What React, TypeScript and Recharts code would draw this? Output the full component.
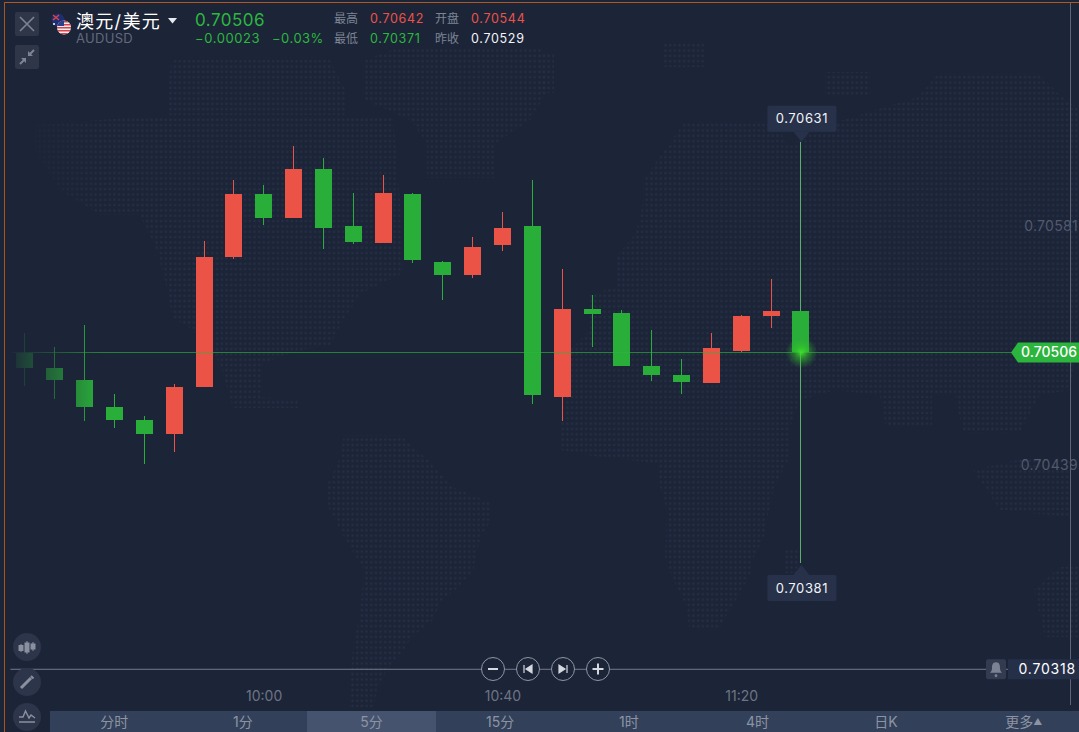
import React from 'react';
import { ComposedChart, Bar, XAxis, YAxis, ReferenceLine, ReferenceDot } from 'recharts';

const BG = '#1c2438';
const RED = '#ec5347';
const GREEN = '#2aae3a';
const TEXT_GREEN = '#2bb83e';
const NUM_FONT = 'Inter, "Noto Sans CJK SC", sans-serif';

const times = [
  '09:20', '09:25', '09:30', '09:35', '09:40', '09:45', '09:50', '09:55', '10:00', '10:05',
  '10:10', '10:15', '10:20', '10:25', '10:30', '10:35', '10:40', '10:45', '10:50', '10:55',
  '11:00', '11:05', '11:10', '11:15', '11:20', '11:25', '11:30',
];
// empty slots to the right of the last candle
const futureTimes = ['11:35', '11:40', '11:45', '11:50', '11:55', '12:00', '12:05', '12:10', '12:15'];

const opens = [
  0.705057, 0.704968, 0.704897, 0.704737, 0.704659, 0.704576, 0.704855, 0.705627, 0.706001, 0.705858,
  0.706149, 0.705811, 0.70571, 0.706001, 0.705597, 0.70552, 0.705698, 0.705811, 0.704796, 0.705318,
  0.705294, 0.70498, 0.704926, 0.704879, 0.705069, 0.705277, 0.705306,
];
const closes = [
  0.704968, 0.704897, 0.704737, 0.704659, 0.704576, 0.704855, 0.705627, 0.706001, 0.705858, 0.706149,
  0.705799, 0.705716, 0.706007, 0.705609, 0.70552, 0.705686, 0.705799, 0.704808, 0.705318, 0.705288,
  0.70498, 0.704926, 0.704885, 0.705087, 0.705277, 0.705306, 0.70506,
];
const highs = [
  0.705176, 0.705093, 0.705223, 0.704814, 0.704683, 0.704873, 0.705722, 0.706084, 0.706054, 0.706286,
  0.706214, 0.706007, 0.706113, 0.706007, 0.705603, 0.705745, 0.705894, 0.706084, 0.705556, 0.705401,
  0.705312, 0.705194, 0.705021, 0.705176, 0.705283, 0.705496, 0.70631,
];
const lows = [
  0.704861, 0.704784, 0.704653, 0.704612, 0.7044, 0.704469, 0.704855, 0.705615, 0.705817, 0.705858,
  0.705674, 0.705704, 0.70571, 0.705591, 0.705372, 0.705502, 0.705662, 0.704754, 0.704653, 0.705093,
  0.70498, 0.704891, 0.704814, 0.704879, 0.705063, 0.705205, 0.70381,
];

const yTicks = [0.70581, 0.70439];
const xTicks = ['10:00', '10:40', '11:20'];
const lastPrice = 0.70506;
const floorPrice = 0.70318;
const rangeHigh = 0.70631;
const rangeLow = 0.70381;
const lastTime = '11:30';

const periods = ['分时', '1分', '5分', '15分', '1时', '4时', '日K', '更多'];
const activePeriod = '5分';

const chartData = [
  ...times.map((time, i) => ({
    time,
    open: opens[i],
    close: closes[i],
    high: highs[i],
    low: lows[i],
  })),
  ...futureTimes.map((time) => ({ time })),
];

// bar runs from low to high, body position comes out of the same pixel span
const Candle = (props: any) => {
  const { x, y, width, height, payload } = props;
  if (payload.high === undefined || !height) return null;
  const { open, close, high, low } = payload;
  const perUnit = height / (high - low);
  const bodyTop = y + (high - Math.max(open, close)) * perUnit;
  const bodyBottom = y + (high - Math.min(open, close)) * perUnit;
  const color = close >= open ? RED : GREEN;
  const mid = Math.floor(x + width / 2) + 0.5;
  const wick = payload.time === lastTime ? '#58b068' : color;
  return (
    <g shapeRendering="crispEdges">
      <line x1={mid} x2={mid} y1={y} y2={y + height} stroke={wick} strokeWidth={1} />
      <rect x={Math.round(x)} y={bodyTop} width={width} height={Math.max(bodyBottom - bodyTop, 1)} fill={color} />
    </g>
  );
};

const RangeTag = (props: any) => {
  const { cx, cy, label, up } = props;
  const boxY = up ? cy + 12 : cy - 36;
  const tip = up
    ? `${cx},${cy + 2} ${cx - 8},${cy + 12} ${cx + 8},${cy + 12}`
    : `${cx},${cy} ${cx - 8},${cy - 10} ${cx + 8},${cy - 10}`;
  return (
    <g>
      <polygon points={tip} fill="#27324a" />
      <rect x={cx - 34} y={boxY} width={69} height={26} rx={2} fill="#27324a" />
      <text x={cx + 0.5} y={boxY + 17.5} textAnchor="middle" fill="#f2f4f7" fontSize={13} letterSpacing={0.6} fontFamily={NUM_FONT}>
        {label}
      </text>
    </g>
  );
};

const Glow = (props: any) => {
  const { cx, cy } = props;
  return (
    <g>
      <defs>
        <radialGradient id="lastGlow">
          <stop offset="0%" stopColor="#3ee62b" stopOpacity={0.95} />
          <stop offset="35%" stopColor="#35c92a" stopOpacity={0.6} />
          <stop offset="100%" stopColor="#2aa82a" stopOpacity={0} />
        </radialGradient>
      </defs>
      <circle cx={cx} cy={cy} r={16} fill="url(#lastGlow)" />
    </g>
  );
};

const LastTag = (props: any) => {
  const y = props.viewBox.y;
  return (
    <g>
      <polygon points={`1011,${y} 1018,${y - 10} 1079,${y - 10} 1079,${y + 10} 1018,${y + 10}`} fill="#2bb53c" />
      <text x={1077} y={y + 5} textAnchor="end" fill="#fff" fontSize={14} fontWeight={500} fontFamily={NUM_FONT}>
        {lastPrice.toFixed(5)}
      </text>
    </g>
  );
};

const FloorTag = (props: any) => {
  const y = props.viewBox.y;
  return (
    <g>
      <rect x={986} y={y - 10} width={20} height={20} rx={2} fill="#333b50" />
      <path
        d={`M996 ${y - 7} c-3.5 0 -4 3 -4 6 c0 2 -1 3.500 -2 4.500 h12 c-1 -1 -2 -2.500 -2 -4.500 c0 -3 -0.500 -6 -4 -6 z`}
        fill="#7b8293"
      />
      <circle cx={996} cy={y + 6.5} r={1.4} fill="#7b8293" />
      <rect x={1008} y={y - 10} width={71} height={20} fill="#252f47" />
      <text x={1076} y={y + 5} textAnchor="end" fill="#fff" fontSize={14} letterSpacing={0.8} fontFamily={NUM_FONT}>
        {floorPrice.toFixed(5)}
      </text>
    </g>
  );
};

const txt = (left: number, top: number, fontSize: number, color: string, extra: React.CSSProperties = {}): React.CSSProperties => ({
  position: 'absolute',
  left,
  top,
  fontSize,
  lineHeight: `${fontSize + 4}px`,
  color,
  whiteSpace: 'nowrap',
  fontFamily: NUM_FONT,
  ...extra,
});

// dotted world map behind the candles, outlines only traced by eye
const landShapes = [
  // arctic islands and north america
  '172,60 330,60 345,90 345,115 168,115 168,87',
  '35,125 138,117 393,117 400,200 403,273 362,293 345,317 330,345 300,350 263,363 260,397 300,400 300,408 233,408 220,363 193,330 172,317 169,297 158,253 140,215 100,215 60,190 35,150',
  // greenland
  '365,60 400,47 540,47 548,90 530,120 496,143 496,178 427,178 427,143 410,120 365,100',
  // south america
  '344,435 400,435 428,460 453,487 491,503 491,520 481,537 476,553 474,570 463,583 440,603 433,620 412,637 402,653 387,670 377,690 374,707 349,707 351,670 354,640 359,620 364,570 344,537 326,503 326,487 339,460',
  // europe, asia, africa
  '684,123 774,123 790,147 811,130 866,113 918,97 939,73 1038,73 1060,95 1079,110 1079,330 1070,390 1040,395 1019,433 963,433 955,395 932,395 932,427 886,427 880,395 835,390 800,400 790,427 790,457 774,487 769,510 764,537 754,557 749,577 734,603 718,630 690,630 685,603 672,577 665,557 667,510 660,487 657,463 600,457 560,450 563,357 590,330 590,295 616,287 616,257 636,233 643,203 643,180 670,143',
  // madagascar, small islands, indonesia, australia
  '785,550 800,550 800,573 785,573',
  '664,43 705,43 705,67 664,67',
  '540,53 554,53 554,93 540,93',
  '825,72 870,72 870,97 825,97',
  '973,470 1030,457 1070,470 1070,517 1000,510',
  '1034,590 1060,567 1079,567 1079,637 1045,637',
];

const WorldMap = () => (
  <svg width={1079} height={732} style={{ position: 'absolute', left: 0, top: 0 }}>
    <defs>
      <pattern id="dots" width={4.67} height={5.33} patternUnits="userSpaceOnUse">
        <circle cx={2.3} cy={2.6} r={1.2} fill="#252e44" />
      </pattern>
    </defs>
    {landShapes.map((points, i) => (
      <polygon key={i} points={points} fill="url(#dots)" />
    ))}
  </svg>
);

const Flag = () => (
  <svg width={24} height={24} style={{ position: 'absolute', left: 48.5, top: 12 }}>
    <defs>
      <clipPath id="usClip">
        <circle cx={15} cy={15.500} r={7} />
      </clipPath>
    </defs>
    <circle cx={9} cy={8} r={6.5} fill="#1c2f73" />
    <path d="M4 3 L10 8 M10 3 L4 8" stroke="#d8424a" strokeWidth={1.6} />
    <circle cx={11} cy={12} r={1} fill="#fff" />
    <circle cx={5} cy={12} r={1} fill="#fff" />
    <g clipPath="url(#usClip)">
      <rect x={8} y={8} width={14} height={15} fill="#eef0f4" />
      {[9, 12, 15, 18, 21].map((y) => (
        <rect key={y} x={8} y={y} width={14} height={1.5} fill="#d8424a" />
      ))}
      <rect x={8} y={8} width={7} height={6} fill="#2b3f8c" />
    </g>
  </svg>
);

const toolBtn = (top: number): React.CSSProperties => ({
  position: 'absolute',
  left: 15,
  top,
  width: 24,
  height: 24,
  borderRadius: 2,
  background: '#2e3648',
});

const circleBtn = (top: number): React.CSSProperties => ({
  position: 'absolute',
  left: 13,
  top,
  width: 28,
  height: 28,
  borderRadius: 14,
  background: '#2c3549',
});

const controlIcons = [
  <path key="m" d="M7 12h10" stroke="#d5d8de" strokeWidth={2} />,
  <path key="p" d="M8 8v8 M16 8v8l-6-4z" stroke="#d5d8de" strokeWidth={1.2} fill="#d5d8de" />,
  <path key="n" d="M16 8v8 M8 8v8l6-4z" stroke="#d5d8de" strokeWidth={1.2} fill="#d5d8de" />,
  <path key="a" d="M6.500 12h11 M12 6.500v11" stroke="#d5d8de" strokeWidth={2} />,
];
const controlX = [481, 516, 551, 586];

export default function App() {
  return (
    <div style={{ position: 'absolute', left: 0, top: 0, width: 1079, height: 732, overflow: 'hidden', background: BG }}>
      <WorldMap />

      {/* frame and right side rule */}
      <div style={{ position: 'absolute', left: 4, top: 2, width: 1075, height: 1, background: '#b0581f' }} />
      <div style={{ position: 'absolute', left: 4, top: 2, width: 1, height: 730, background: '#a8541f' }} />
      <div style={{ position: 'absolute', left: 1070, top: 3, width: 1, height: 702, background: '#5d6577' }} />

      <div style={{ position: 'absolute', left: 0, top: 0 }}>
        <ComposedChart
          width={1085}
          height={732}
          data={chartData}
          margin={{ top: 0, right: 0, bottom: 0, left: 10.4 }}
          barCategoryGap={0}
        >
          <XAxis
            dataKey="time"
            ticks={xTicks}
            interval={0}
            height={57}
            axisLine={false}
            tickLine={false}
            tickMargin={10}
            tick={{ fill: '#6d7484', fontSize: 14, fontFamily: NUM_FONT }}
          />
          <YAxis
            type="number"
            orientation="right"
            mirror
            domain={[0.703146, 0.707152]}
            ticks={yTicks}
            interval={0}
            width={60}
            axisLine={false}
            tickLine={false}
            tickSize={0}
            tickMargin={7}
            tickFormatter={(v: number) => v.toFixed(5)}
            tick={{ fill: '#515a6d', fontSize: 14, letterSpacing: 0.3, fontFamily: NUM_FONT }}
          />
          <ReferenceLine y={floorPrice} stroke="#747b8b" strokeWidth={1} label={(p: any) => <FloorTag {...p} />} />
          <Bar
            dataKey={(d: any) => (d.high === undefined ? null : [d.low, d.high])}
            barSize={17}
            isAnimationActive={false}
            shape={<Candle />}
          />
          <ReferenceLine y={lastPrice} stroke="#2cb53c" strokeOpacity={0.65} strokeWidth={1} label={(p: any) => <LastTag {...p} />} />
          <ReferenceDot x={lastTime} y={rangeHigh} shape={(p: any) => <RangeTag {...p} label={rangeHigh.toFixed(5)} />} />
          <ReferenceDot x={lastTime} y={rangeLow} shape={(p: any) => <RangeTag {...p} label={rangeLow.toFixed(5)} up />} />
          <ReferenceDot x={lastTime} y={lastPrice} shape={(p: any) => <Glow {...p} />} />
        </ComposedChart>
      </div>

      {/* left fade over the oldest candles */}
      <div style={{ position: 'absolute', left: 5, top: 80, width: 95, height: 540, background: `linear-gradient(to right, ${BG}, ${BG}00)` }} />

      {/* header */}
      <div style={toolBtn(12)}>
        <svg width={24} height={24}>
          <path d="M5 5 L19 19 M19 5 L5 19" stroke="#7d8495" strokeWidth={1.6} />
        </svg>
      </div>
      <div style={toolBtn(45)}>
        <svg width={24} height={24}>
          <path d="M19 5 L14 10 M5 19 L10 14" stroke="#7d8495" strokeWidth={2} />
          <path d="M13 6 L13 11 L18 11 Z M6 13 L11 13 L11 18 Z" fill="#7d8495" />
        </svg>
      </div>
      <Flag />
      <div style={txt(76, 11, 18, '#fff', { letterSpacing: 1.3 })}>澳元/美元</div>
      <svg width={10} height={6} style={{ position: 'absolute', left: 168, top: 18 }}>
        <path d="M0 0 H9 L4.500 5.500 Z" fill="#e8eaee" />
      </svg>
      <div style={txt(76, 30, 13, '#626a7c', { letterSpacing: 0.3 })}>AUDUSD</div>
      <div style={txt(195, 10, 17, TEXT_GREEN, { letterSpacing: 0.5 })}>0.70506</div>
      <div style={txt(195, 30, 13, TEXT_GREEN, { letterSpacing: 0.6 })}>−0.00023</div>
      <div style={txt(272, 30, 13, TEXT_GREEN, { letterSpacing: 0.5 })}>−0.03%</div>
      <div style={txt(334, 11, 12, '#7d8595')}>最高</div>
      <div style={txt(370, 11, 12.500, RED, { letterSpacing: 0.7 })}>0.70642</div>
      <div style={txt(435, 11, 12, '#7d8595')}>开盘</div>
      <div style={txt(471, 11, 12.500, RED, { letterSpacing: 0.7 })}>0.70544</div>
      <div style={txt(334, 31, 12, '#7d8595')}>最低</div>
      <div style={txt(370, 31, 12.500, TEXT_GREEN, { letterSpacing: 0.7 })}>0.70371</div>
      <div style={txt(435, 31, 12, '#7d8595')}>昨收</div>
      <div style={txt(471, 31, 12.500, '#f2f4f7', { letterSpacing: 0.7 })}>0.70529</div>

      {/* left tools */}
      <div style={circleBtn(633)}>
        <svg width={28} height={28}>
          <path d="M8 11v8 M14 8v13 M20 9v9" stroke="#8a909f" strokeWidth={1} />
          <rect x={5.500} y={12} width={5} height={6} fill="#8a909f" />
          <rect x={11.500} y={9.500} width={5} height={10} fill="#8a909f" />
          <rect x={17.500} y={10.500} width={5} height={6} fill="#8a909f" />
        </svg>
      </div>
      <div style={circleBtn(668)}>
        <svg width={28} height={28}>
          <path d="M8 20 L18 10" stroke="#8a909f" strokeWidth={3} />
          <path d="M18 8 L20.500 10.500" stroke="#8a909f" strokeWidth={2} />
        </svg>
      </div>
      <div style={circleBtn(703)}>
        <svg width={28} height={28}>
          <path d="M6 14 L10 14 L12.500 8 L16 15 L18 12 L22 15" stroke="#8a909f" strokeWidth={1.4} fill="none" />
          <path d="M6 19h16" stroke="#8a909f" strokeWidth={1.500} />
        </svg>
      </div>

      {/* chart controls */}
      {controlIcons.map((icon, i) => (
        <svg key={i} width={24} height={24} style={{ position: 'absolute', left: controlX[i], top: 657 }}>
          <circle cx={12} cy={12} r={11.500} fill={BG} stroke="#8f96a3" strokeWidth={1} />
          {icon}
        </svg>
      ))}

      {/* period tabs */}
      <div style={{ position: 'absolute', left: 50, top: 711, width: 1029, height: 21, background: '#334059', display: 'flex' }}>
        {periods.map((p) => (
          <div
            key={p}
            style={{
              width: p === '更多' ? 111 : 129,
              paddingLeft: p === '更多' ? 18 : 0,
              height: 21,
              textAlign: 'center',
              fontSize: 14,
              lineHeight: '22px',
              color: '#8c94a4',
              fontFamily: NUM_FONT,
              background: p === activePeriod ? '#46536f' : 'transparent',
            }}
          >
            {p}
            {p === '更多' ? <span style={{ fontSize: 9, verticalAlign: 2 }}>▲</span> : null}
          </div>
        ))}
      </div>
    </div>
  );
}
